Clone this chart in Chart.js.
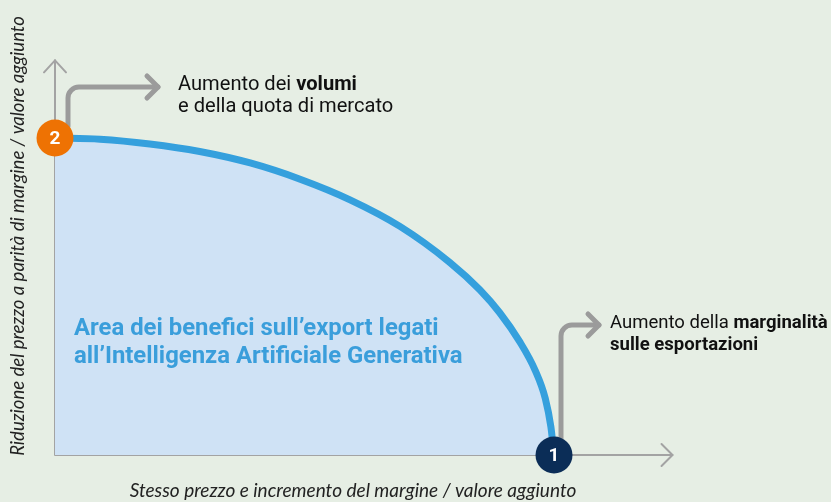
<!DOCTYPE html>
<html>
<head>
<meta charset="utf-8">
<script src="https://cdn.jsdelivr.net/npm/chart.js@4.4.1/dist/chart.umd.min.js"></script>
<style>
  html, body { margin:0; padding:0; background:#e6eee4; }
  #wrap { position:relative; width:831px; height:502px; }
  canvas { display:block; }
</style>
</head>
<body>
<div id="wrap"><canvas id="c" width="831" height="502"></canvas></div>
<script>
// Frontier curve (x: same price / margin increase, y: price reduction)
const curveX = [0, 7.2, 15.2, 23.2, 31.3, 39.3, 47.3, 55.3, 63.3, 68.1, 71.3, 74.5, 77.0, 78.6, 79.5, 80];
const curveY = [80, 79.7, 78.5, 76.6, 73.7, 69.6, 64.4, 57.7, 48.6, 41.7, 35.9, 28.6, 21.3, 14.3, 7.1, 0];
const markerLabels = ['1', '2'];
const markerX = [80, 0];
const markerY = [0, 80];
const xTitle = 'Stesso prezzo e incremento del margine / valore aggiunto';
const yTitle = 'Riduzione del prezzo a parità di margine / valore aggiunto';
const areaLabel = ['Area dei benefici sull\u2019export legati', 'all\u2019Intelligenza Artificiale Generativa'];
const note2 = [[['Aumento dei ', false], ['volumi', true]], [['e della quota di mercato', false]]];
const note1 = [[['Aumento della ', false], ['marginalità', true]], [['sulle esportazioni', true]]];

const FONT = 'Roboto, "Open Sans", sans-serif';
const TFONT = 'Lato, "Open Sans", sans-serif';
const points = curveX.map((x, i) => ({ x: x, y: curveY[i] }));

function fitFont(ctx, text, weight, style, target, fam) {
  ctx.font = style + ' ' + weight + ' 20px ' + fam;
  const w = ctx.measureText(text).width;
  return 20 * target / w;
}

function richWidth(ctx, line, size) {
  let w = 0;
  line.forEach(seg => {
    ctx.font = (seg[1] ? '700 ' : '400 ') + size + 'px ' + FONT;
    w += ctx.measureText(seg[0]).width;
  });
  return w;
}

function drawArrowRight(ctx, x0, yStart, yTurn, xEnd, r) {
  ctx.beginPath();
  ctx.moveTo(x0, yStart);
  ctx.lineTo(x0, yTurn + r);
  ctx.arcTo(x0, yTurn, x0 + r, yTurn, r);
  ctx.lineTo(xEnd, yTurn);
  ctx.stroke();
  ctx.beginPath();
  ctx.moveTo(xEnd - 11, yTurn - 11);
  ctx.lineTo(xEnd, yTurn);
  ctx.lineTo(xEnd - 11, yTurn + 11);
  ctx.stroke();
}

function drawRich(ctx, lines, x, y, size, lh) {
  ctx.textBaseline = 'alphabetic';
  ctx.textAlign = 'left';
  ctx.fillStyle = '#111111';
  lines.forEach((line, li) => {
    let cx = x;
    line.forEach(seg => {
      ctx.font = (seg[1] ? '700 ' : '400 ') + size + 'px ' + FONT;
      ctx.fillText(seg[0], cx, y + li * lh);
      cx += ctx.measureText(seg[0]).width;
    });
  });
}

const decor = {
  id: 'decor',
  beforeDatasetsDraw(chart) {
    const ctx = chart.ctx;
    const xs = chart.scales.x, ys = chart.scales.y;
    const x0 = xs.getPixelForValue(0), y0 = ys.getPixelForValue(0);
    const xEnd = xs.getPixelForValue(99), yEnd = ys.getPixelForValue(99.6);
    ctx.save();
    ctx.strokeStyle = '#a3a3a3';
    ctx.lineWidth = 2;
    ctx.lineCap = 'round';
    ctx.lineJoin = 'round';
    ctx.beginPath();
    ctx.moveTo(x0, yEnd);
    ctx.lineTo(x0, y0);
    ctx.lineTo(xEnd, y0);
    ctx.stroke();
    ctx.beginPath();
    ctx.moveTo(x0 - 11, yEnd + 12); ctx.lineTo(x0, yEnd); ctx.lineTo(x0 + 11, yEnd + 12);
    ctx.stroke();
    ctx.beginPath();
    ctx.moveTo(xEnd - 11, y0 - 11); ctx.lineTo(xEnd, y0); ctx.lineTo(xEnd - 11, y0 + 11);
    ctx.stroke();

    // elbow arrows
    ctx.strokeStyle = '#9b9b9b';
    ctx.lineWidth = 5;
    const m1x = xs.getPixelForValue(markerX[0]), m1y = ys.getPixelForValue(markerY[0]);
    const m2x = xs.getPixelForValue(markerX[1]), m2y = ys.getPixelForValue(markerY[1]);
    drawArrowRight(ctx, m2x + 13, m2y - 12, 87, 158, 11);
    drawArrowRight(ctx, m1x + 7, m1y - 15, 325, 599, 11);
    ctx.restore();
  },
  afterDatasetsDraw(chart) {
    const ctx = chart.ctx;
    const xs = chart.scales.x, ys = chart.scales.y;
    ctx.save();
    // area label
    const fs = fitFont(ctx, areaLabel[1], '700', 'normal', 389, FONT);
    ctx.font = '700 ' + fs + 'px ' + FONT;
    ctx.fillStyle = '#3a9edb';
    ctx.textAlign = 'left';
    ctx.textBaseline = 'alphabetic';
    ctx.fillText(areaLabel[0], 74, 335);
    ctx.fillText(areaLabel[1], 74, 363);

    // markers
    const colors = ['#0b2d57', '#ee7203'];
    markerLabels.forEach((lab, i) => {
      const px = xs.getPixelForValue(markerX[i]), py = ys.getPixelForValue(markerY[i]);
      ctx.beginPath();
      ctx.arc(px, py, 18.5, 0, Math.PI * 2);
      ctx.fillStyle = colors[i];
      ctx.fill();
      ctx.fillStyle = '#ffffff';
      ctx.font = '700 19px ' + FONT;
      ctx.textAlign = 'center';
      ctx.textBaseline = 'middle';
      ctx.fillText(lab, px, py + 1);
    });

    // notes
    const s2 = 15.5 * 179 / richWidth(ctx, note2[0], 15.5);
    drawRich(ctx, note2, 178, 90, s2, 21.5);
    const s1 = 15.5 * 218 / richWidth(ctx, note1[0], 15.5);
    drawRich(ctx, note1, 610, 328, s1, 22);

    // axis titles
    ctx.fillStyle = '#222222';
    const fx = fitFont(ctx, xTitle, '400', 'italic', 447, TFONT);
    ctx.font = 'italic 400 ' + fx + 'px ' + TFONT;
    ctx.textAlign = 'center';
    ctx.textBaseline = 'middle';
    ctx.fillText(xTitle, 353, 491);
    const fy = fitFont(ctx, yTitle, '400', 'italic', 440, TFONT);
    ctx.font = 'italic 400 ' + fy + 'px ' + TFONT;
    ctx.translate(18, 236);
    ctx.rotate(-Math.PI / 2);
    ctx.fillText(yTitle, 0, 0);
    ctx.restore();
  }
};

new Chart(document.getElementById('c'), {
  type: 'scatter',
  data: {
    datasets: [{
      data: points,
      showLine: true,
      borderColor: '#35a0dd',
      borderWidth: 7,
      backgroundColor: '#cfe2f5',
      fill: 'origin',
      pointRadius: 0,
      cubicInterpolationMode: 'monotone',
      clip: 10
    }]
  },
  options: {
    responsive: false,
    animation: false,
    layout: { padding: { left: 55, right: 152.25, top: 58.75, bottom: 47 } },
    plugins: { legend: { display: false }, tooltip: { enabled: false } },
    scales: {
      x: { type: 'linear', min: 0, max: 100, display: false },
      y: { type: 'linear', min: 0, max: 100, display: false }
    }
  },
  plugins: [decor]
});
</script>
</body>
</html>
